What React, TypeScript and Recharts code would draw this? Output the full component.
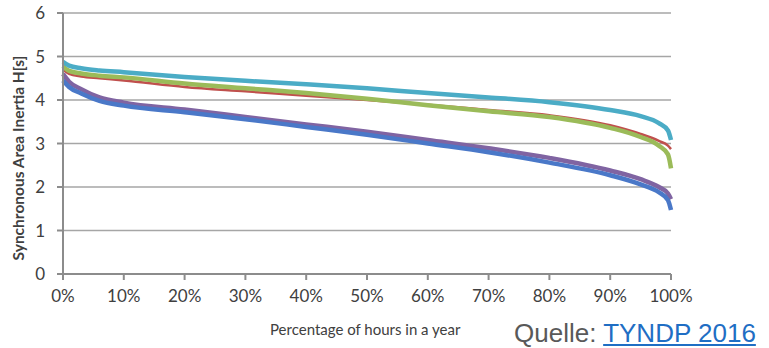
import { LineChart, Line, XAxis, YAxis, CartesianGrid } from "recharts";

// Share of hours in a year (%), sampled along the duration curves
const hours = [0, 1, 3, 6, 10, 20, 30, 40, 50, 60, 70, 80, 90, 95, 98, 99.5, 100];

// Synchronous area inertia H [s] per scenario curve
const cyanSeries = [4.88, 4.79, 4.73, 4.68, 4.64, 4.53, 4.44, 4.36, 4.27, 4.16, 4.06, 3.95, 3.77, 3.63, 3.47, 3.3, 3.08];
const redSeries = [4.7, 4.6, 4.54, 4.5, 4.45, 4.3, 4.2, 4.1, 4.0, 3.89, 3.77, 3.65, 3.42, 3.22, 3.06, 2.95, 2.87];
const greenSeries = [4.78, 4.67, 4.61, 4.56, 4.52, 4.38, 4.27, 4.16, 4.03, 3.88, 3.74, 3.61, 3.36, 3.15, 2.95, 2.75, 2.43];
const purpleSeries = [4.6, 4.42, 4.25, 4.06, 3.94, 3.78, 3.61, 3.44, 3.27, 3.08, 2.89, 2.67, 2.38, 2.18, 2.0, 1.85, 1.72];
const blueSeries = [4.45, 4.3, 4.15, 3.98, 3.87, 3.72, 3.56, 3.38, 3.2, 3.0, 2.8, 2.56, 2.27, 2.06, 1.88, 1.7, 1.47];

const xTicks = [0, 10, 20, 30, 40, 50, 60, 70, 80, 90, 100];
const yTicks = [0, 1, 2, 3, 4, 5, 6];

const data = hours.map((h, i) => ({
	h,
	cyan: cyanSeries[i],
	red: redSeries[i],
	green: greenSeries[i],
	purple: purpleSeries[i],
	blue: blueSeries[i],
}));

const tickFont = { fontSize: 17, fill: "#404040", fontFamily: "Lato, sans-serif" };

export default function App() {
	return (
		<div style={{ position: "absolute", left: 0, top: 0, width: 769, height: 348, background: "#fff" }}>
			<LineChart
				width={769}
				height={348}
				data={data}
				margin={{ top: 13, right: 98, left: 13, bottom: 44 }}
			>
				<CartesianGrid vertical={false} stroke="#a6a6a6" strokeWidth={1.5} />
				<XAxis
					dataKey="h"
					type="number"
					domain={[0, 100]}
					ticks={xTicks}
					tickFormatter={(v: number) => `${v}%`}
					tick={tickFont}
					stroke="#8c8c8c"
					strokeWidth={2}
					tickSize={6}
					tickMargin={10}
					height={30}
				/>
				<YAxis
					type="number"
					domain={[0, 6]}
					ticks={yTicks}
					tick={tickFont}
					stroke="#8c8c8c"
					strokeWidth={2}
					tickSize={6}
					tickMargin={12}
					width={50}
				/>
				<Line dataKey="red" type="monotone" stroke="#c0504d" strokeWidth={2.5} dot={false} isAnimationActive={false} />
				<Line dataKey="green" type="monotone" stroke="#9bbb59" strokeWidth={4.5} dot={false} isAnimationActive={false} />
				<Line dataKey="cyan" type="monotone" stroke="#4bacc6" strokeWidth={4.5} dot={false} isAnimationActive={false} />
				<Line dataKey="purple" type="monotone" stroke="#8064a2" strokeWidth={4.5} dot={false} isAnimationActive={false} />
				<Line dataKey="blue" type="monotone" stroke="#4a78c8" strokeWidth={4.5} dot={false} isAnimationActive={false} />
			</LineChart>
			<div
				style={{
					position: "absolute",
					left: 18,
					top: 158,
					transform: "translate(-50%, -50%) rotate(-90deg)",
					whiteSpace: "nowrap",
					fontFamily: "Lato, sans-serif",
					fontWeight: 700,
					fontSize: 15.5,
					color: "#404040",
				}}
			>
				Synchronous Area Inertia H[s]
			</div>
			<div
				style={{
					position: "absolute",
					left: 270,
					top: 320,
					whiteSpace: "nowrap",
					fontFamily: "Lato, sans-serif",
					fontSize: 15,
					color: "#404040",
				}}
			>
				Percentage of hours in a year
			</div>
			<div
				style={{
					position: "absolute",
					left: 514,
					top: 318,
					whiteSpace: "nowrap",
					fontFamily: "'Liberation Sans', Arial, sans-serif",
					fontSize: 26,
					color: "#595959",
				}}
			>
				Quelle: <span style={{ color: "#1f6ec4", textDecoration: "underline" }}>TYNDP 2016</span>
			</div>
		</div>
	);
}
